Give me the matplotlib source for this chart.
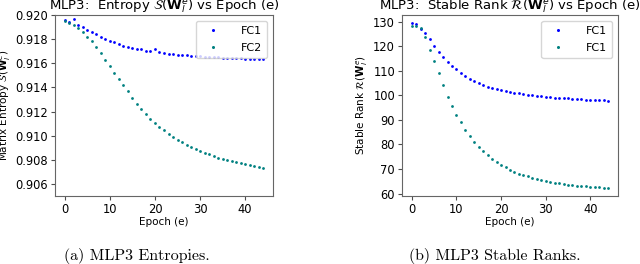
import matplotlib
matplotlib.use('Agg')
import matplotlib.pyplot as plt
import numpy as np

epochs = np.arange(45)

# entropy, MLP3
ent_fc1 = [0.91958, 0.91944, 0.91967, 0.91917, 0.91898, 0.91875, 0.91856, 0.91839,
           0.91814, 0.91803, 0.91786, 0.91773, 0.91759, 0.91747, 0.91738, 0.9173,
           0.91722, 0.91718, 0.91705, 0.91698, 0.91718, 0.9169, 0.91685, 0.9168,
           0.91676, 0.91672, 0.91668, 0.91665, 0.91662, 0.9166, 0.91657, 0.91655,
           0.91653, 0.91651, 0.91649, 0.91647, 0.91645, 0.91643, 0.91641, 0.9164,
           0.91638, 0.91637, 0.91635, 0.91634, 0.91632]
ent_fc2 = [0.9195, 0.91936, 0.9192, 0.91889, 0.91856, 0.9182, 0.91784, 0.91734,
           0.91681, 0.91631, 0.91578, 0.91523, 0.91468, 0.91418, 0.91368, 0.91312,
           0.91265, 0.91221, 0.91179, 0.91141, 0.91102, 0.91071, 0.91043, 0.91016,
           0.90988, 0.90966, 0.90946, 0.90924, 0.90905, 0.90888, 0.90871, 0.90858,
           0.90844, 0.9083, 0.90819, 0.90808, 0.90796, 0.90788, 0.9078, 0.90771,
           0.90763, 0.90755, 0.9075, 0.90741, 0.90736]

# stable rank, MLP3
sr_a = [129.3, 128.9, 127.1, 125.4, 122.9, 119.9, 117.7, 115.5, 113.6, 111.8,
        110.5, 109.1, 107.7, 106.6, 105.7, 104.8, 104.1, 103.5, 102.9, 102.5,
        102.1, 101.7, 101.3, 101.0, 100.8, 100.5, 100.2, 100.1, 99.8, 99.7,
        99.5, 99.3, 99.1, 99.0, 98.9, 98.7, 98.6, 98.5, 98.4, 98.2,
        98.2, 98.1, 98.0, 97.9, 97.8]
sr_b = [128.0, 128.1, 127.5, 123.8, 118.5, 114.0, 108.9, 104.3, 99.2, 95.7,
        92.1, 89.0, 86.0, 83.5, 81.2, 79.1, 77.2, 75.6, 74.1, 72.8,
        71.6, 70.7, 69.7, 68.9, 68.0, 67.5, 67.0, 66.4, 66.0, 65.6,
        65.2, 64.8, 64.5, 64.2, 63.9, 63.7, 63.5, 63.3, 63.1, 63.0,
        62.9, 62.7, 62.6, 62.5, 62.4]

blue = '#0000ff'
teal = '#008080'

fig = plt.figure(figsize=(6.4, 2.64), dpi=100)
ax1 = fig.add_axes([55/640, 68/264, 218/640, 181/264])
ax2 = fig.add_axes([402/640, 68/264, 216/640, 181/264])

ax1.plot(epochs, ent_fc1, 'o', ms=2.0, mew=0, color=blue, label='FC1')
ax1.plot(epochs, ent_fc2, 'o', ms=2.0, mew=0, color=teal, label='FC2')
ax1.set_ylim(0.905, 0.920)
ax1.set_yticks([0.906, 0.908, 0.910, 0.912, 0.914, 0.916, 0.918, 0.920])
ax1.set_title(r'MLP3:  Entropy $\mathcal{S}(\mathbf{W}_l^e)$ vs Epoch (e)', fontsize=9.5, pad=2)
ax1.set_ylabel(r'Matrix Entropy $\mathcal{S}(\mathbf{W}_l^e)$', fontsize=7.5, labelpad=2)

ax2.plot(epochs, sr_a, 'o', ms=2.0, mew=0, color=blue, label='FC1')
ax2.plot(epochs, sr_b, 'o', ms=2.0, mew=0, color=teal, label='FC1')
ax2.set_yticks(np.arange(60, 131, 10))
ax2.set_title(r'MLP3:  Stable Rank $\mathcal{R}(\mathbf{W}_l^e)$ vs Epoch (e)', fontsize=9.5, pad=2)
ax2.set_ylabel(r'Stable Rank $\mathcal{R}(\mathbf{W}_l^e)$', fontsize=7.5, labelpad=2)

for ax in (ax1, ax2):
    ax.set_xticks([0, 10, 20, 30, 40])
    ax.set_xlabel('Epoch (e)', fontsize=7.5, labelpad=1)
    ax.tick_params(labelsize=8.3, length=3, pad=2, color='0.3')
    for s in ax.spines.values():
        s.set_color('0.4')
    ax.legend(loc='upper right', fontsize=8, markerscale=1.1, handletextpad=1.5,
              borderpad=0.5, labelspacing=0.6)

fig.text(137/640, 1 - 256/264, '(a) MLP3 Entropies.', ha='center', va='center',
         fontsize=11.5, family='cmr10')
fig.text(495/640, 1 - 256/264, '(b) MLP3 Stable Ranks.', ha='center', va='center',
         fontsize=11.5, family='cmr10')

fig.savefig('out.png', dpi=100)
